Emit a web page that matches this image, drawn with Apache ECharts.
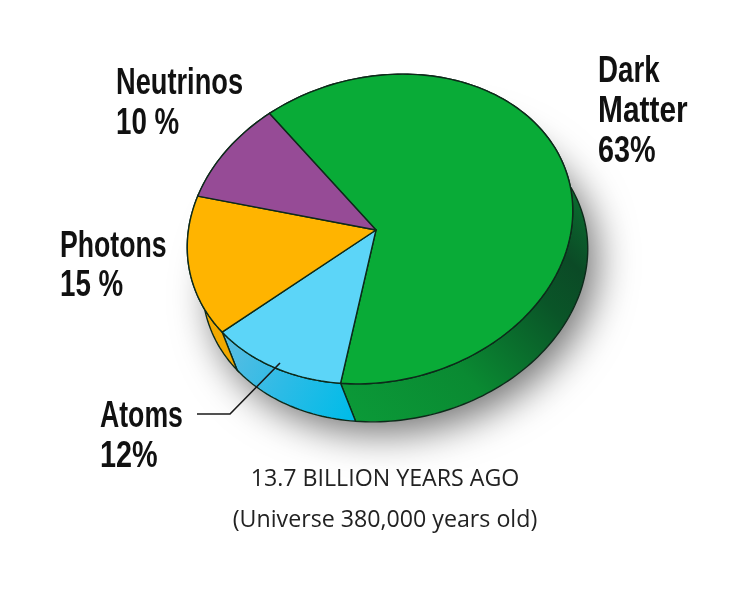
<!DOCTYPE html>
<html><head><meta charset="utf-8">
<style>html,body{margin:0;padding:0;background:#fff}#c{width:752px;height:612px}</style>
<script src="https://cdn.jsdelivr.net/npm/echarts@6/dist/echarts.min.js"></script>
</head><body><div id="c"></div>
<script>
const categories = ['Dark Matter', 'Atoms', 'Photons', 'Neutrinos'];
const values = [63, 12, 15, 10];
const valueLabels = ['63%', '12%', '15 %', '10 %'];
const topColors = ['#09AB37', '#5CD5F8', '#FFB400', '#964B96'];
const caption = ['13.7 BILLION YEARS AGO', '(Universe 380,000 years old)'];

const cx = 380, cy = 229, vx = 376, vy = 230, ra = 195, rb = 152;
const tilt = 14 * Math.PI / 180, startDeg = 336, depthX = 15, depthY = 38;
const total = values.reduce((a, b) => a + b, 0);
function pt(deg, ox, oy) {
  const t = deg * Math.PI / 180, p = ra * Math.sin(t), q = -rb * Math.cos(t);
  return [cx + p * Math.cos(tilt) + q * Math.sin(tilt) + (ox || 0),
          cy - p * Math.sin(tilt) + q * Math.cos(tilt) + (oy || 0)];
}
function range(i) {
  let s = 0; for (let k = 0; k < i; k++) s += values[k];
  return [startDeg + s / total * 360, startDeg + (s + values[i]) / total * 360];
}
function arc(a, b, ox, oy) {
  const n = Math.max(2, Math.ceil(Math.abs(b - a) / 1.5)), out = [];
  for (let i = 0; i <= n; i++) out.push(pt(a + (b - a) * i / n, ox, oy));
  return out;
}
const G = echarts.graphic.LinearGradient;
const wallFill = [
  new G(345, 415, 585, 190, [{offset:0,color:'#0B9A38'},{offset:.35,color:'#0A8A32'},{offset:.68,color:'#0A5528'},{offset:.82,color:'#0B4A26'},{offset:1,color:'#0A7030'}], true),
  new G(215, 350, 350, 420, [{offset:0,color:'#5CBDE2'},{offset:.5,color:'#2DBBE6'},{offset:1,color:'#00BCE8'}], true),
  '#F2A900', '#7a3a7a'
];
const stroke = '#0d2a1a';

function renderWall(params, api) {
  const i = params.dataIndex; api.value(0);
  const r = range(i);
  return { type: 'polygon', z2: 1,
    shape: { points: arc(r[0], r[1], 0, 0).concat(arc(r[1], r[0], depthX, depthY)) },
    style: { fill: wallFill[i], stroke: stroke, lineWidth: 1.4 } };
}
function renderTop(params, api) {
  const i = params.dataIndex; api.value(0);
  const r = range(i);
  return { type: 'polygon', z2: 2,
    shape: { points: [[vx, vy]].concat(arc(r[0], r[1], 0, 0)) },
    style: { fill: topColors[i], stroke: stroke, lineWidth: 1.4, lineJoin: 'round' } };
}
function renderShadow(params, api) {
  if (params.dataIndex !== 0) return null;
  return { type: 'polygon',
    shape: { points: arc(0, 360, depthX, depthY) },
    style: { fill: '#fff', shadowColor: 'rgba(0,0,0,0.55)', shadowBlur: 38, shadowOffsetX: 9, shadowOffsetY: 12 } };
}
const seriesData = categories.map((n, i) => ({ name: n, value: values[i] }));
const heavy = 'bold 36px "Liberation Sans", sans-serif';
const txt = (x, y, t, sx) => ({ type: 'text', x: x, y: y, scaleX: sx || 0.77, silent: true,
  style: { text: t, font: heavy, fill: '#111', verticalAlign: 'middle', align: 'left' } });
const cap = (y, t) => ({ type: 'text', x: 385, y: y, silent: true,
  style: { text: t, font: '23.2px "Open Sans", sans-serif', fill: '#222', align: 'center', verticalAlign: 'middle' } });

const chart = echarts.init(document.getElementById('c'), null, { renderer: 'canvas' });
chart.setOption({
  animation: false, backgroundColor: '#fff',
  series: [
    { type: 'custom', coordinateSystem: 'none', renderItem: renderShadow, data: seriesData, z: 1, silent: true },
    { type: 'custom', coordinateSystem: 'none', renderItem: renderWall, data: seriesData, z: 2, silent: true },
    { type: 'custom', coordinateSystem: 'none', renderItem: renderTop, data: seriesData, z: 3, silent: true }
  ],
  graphic: { elements: [
    { type: 'polyline', z: 10, shape: { points: [[197,414],[230,414],[280,363]] }, style: { stroke: '#1a1a1a', lineWidth: 1.6, fill: null } },
    txt(598, 72, 'Dark'), txt(598, 112, 'Matter', 0.83), txt(598, 152, valueLabels[0], 0.8),
    txt(116, 84, categories[3], 0.756), txt(116, 124, valueLabels[3]),
    txt(60, 247, categories[2], 0.74), txt(60, 286, valueLabels[2]),
    txt(100, 417, categories[1], 0.74), txt(100, 457, valueLabels[1], 0.8),
    cap(479, caption[0]), cap(520, caption[1])
  ] }
});
</script></body></html>
